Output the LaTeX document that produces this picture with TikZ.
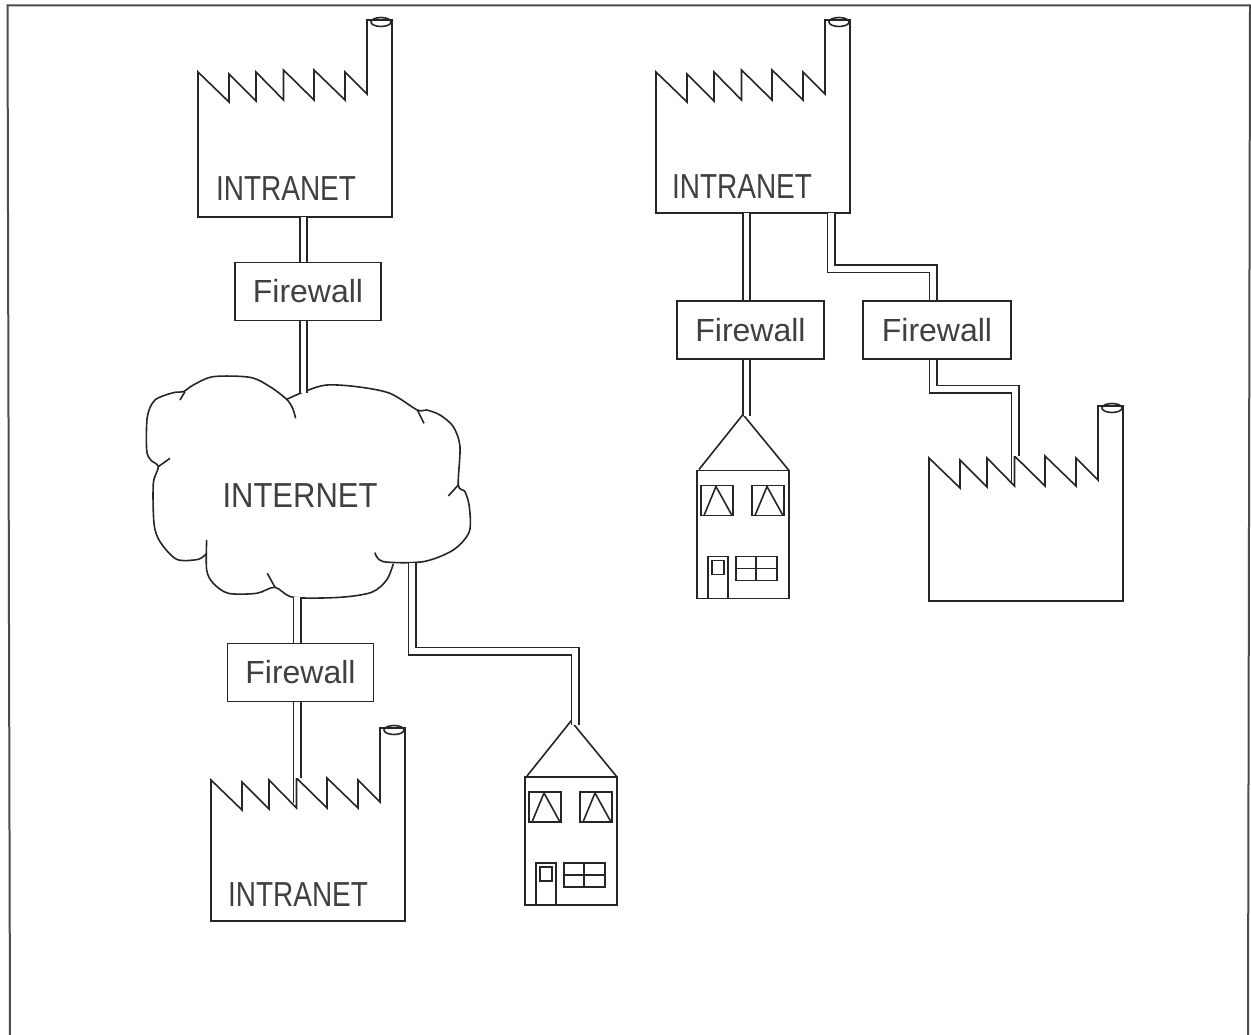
\documentclass[tikz,border=0pt]{standalone}
\usepackage{fontspec}
\setmainfont{Liberation Sans}
\newcommand{\tallI}[1]{\scalebox{1}[1.24]{#1}}
\newcommand{\tallC}[1]{\scalebox{1}[1.12]{#1}}
\tikzset{
  outline/.style={draw=black!85,line width=1.6pt,line join=miter},
  link/.style={draw=black!85,line width=1.7pt,double=white,double distance=5.6pt,line join=miter},
  fwbox/.style={draw=black!85,line width=1.8pt,fill=white,minimum width=146pt,minimum height=58pt,inner sep=0pt,font=\fontsize{32}{32}\selectfont,text=black!75},
  itext/.style={inner sep=0pt,text=black!75,font=\fontsize{28}{28}\selectfont},
  pics/factory/.style={code={
    \draw[outline] (0,0)--(31,30)--(31,2)--(58,29)--(58,0)--(85.5,28)--(85.5,-2)--(116,28)--(116,-2)--(147,28)--(147,0)--(169,22)--(169,-52)--(194,-52)--(194,#1)--(0,#1)--cycle;
    \draw[outline] (183,-50) ellipse (10 and 4.5);
  }},
  pics/house/.style={code={
    \draw[outline] (2,-1)--(46,-56)--(92,0);
    \draw[outline] (0,0) rectangle (92,128);
    \draw[outline] (4,15) rectangle (36,45);
    \draw[outline] (7,45)--(19,16)--(35,45);
    \draw[outline] (55,15) rectangle (87,45);
    \draw[outline] (58,45)--(70,16)--(86,45);
    \draw[outline] (11,128)--(11,86)--(31,86)--(31,128);
    \draw[outline] (15,90) rectangle (27,104);
    \draw[outline] (39,86) rectangle (80,110);
    \draw[outline] (59,86)--(59,110);
    \draw[outline] (39,98)--(80,98);
  }},
}
\begin{document}
\begin{tikzpicture}[x=1pt,y=-1pt]
\useasboundingbox (0,0) rectangle (1251,1035);
\fill[white] (0,0) rectangle (1251,1035);
\draw[draw=black!70,line width=2pt] (10,1036) -- (7.5,5.5) -- (1250,5.5) -- (1248,1036);

% cloud outline
\begin{scope}[shift={(130,360)},x=0.3333pt,y=-0.3333pt]
\draw[outline] plot[smooth,tension=0.5] coordinates {(497,175)(488,145)(470,118)(420,80)(360,52)(250,50)(190,75)(160,95)(130,98)(75,120)(52,170)(50,270)(62,300)(85,320)(70,370)(72,490)(90,545)(140,598)(205,598)(230,580)};
\draw[outline] plot[smooth,tension=0.5] coordinates {(150,120)(165,95)};
\draw[outline] plot[smooth,tension=0.5] coordinates {(120,295)(85,320)};
\draw[outline] plot[smooth,tension=0.5] coordinates {(230,540)(230,630)(250,670)(295,700)(380,700)(435,682)(490,712)(630,712)(725,697)(770,660)(790,612)};
\draw[outline] plot[smooth,tension=0.5] coordinates {(412,640)(435,682)};
\draw[outline] plot[smooth,tension=0.5] coordinates {(735,578)(760,605)(880,605)(970,570)(1018,515)(1018,440)(1005,395)(985,375)(990,260)(970,200)(930,165)(890,150)(862,150)(780,100)(680,80)(590,75)(530,92)(470,118)};
\draw[outline] plot[smooth,tension=0.5] coordinates {(955,408)(985,375)};
\draw[outline] plot[smooth,tension=0.5] coordinates {(882,190)(862,150)};
\end{scope}
\node[inner sep=0pt,text=black!75,font=\fontsize{31}{31}\selectfont] (internet) at (300,496) {\tallC{INTERNET}};

% factories
\pic at (198,72) {factory=145};
\pic at (656,72) {factory=141};
\pic at (929,458) {factory=143};
\pic at (211,780) {factory=141};
\node[itext] (i1) at (286,189) {\tallI{INTRANET}};
\node[itext] (i2) at (742,187) {\tallI{INTRANET}};
\node[itext] (i3) at (298,895) {\tallI{INTRANET}};

% houses
\pic at (525,777) {house};
\pic at (697,470.5) {house};

% firewalls
\node[fwbox] (fw1) at (308,291.5) {Firewall};
\node[fwbox] (fw2) at (300.5,672.5) {Firewall};
\node[fwbox,minimum width=147pt] (fw3) at (750.5,330) {Firewall};
\node[fwbox,minimum width=148pt] (fw4) at (937,330) {Firewall};

% connector ends
\coordinate (f1b) at (303.5,217);
\coordinate (c1) at (303.5,393);
\coordinate (c2) at (297,597);
\coordinate (f4t) at (297,778);
\coordinate (c3) at (412,563);
\coordinate (h1) at (575,725);
\coordinate (f2a) at (746.5,213);
\coordinate (h2) at (746.5,416);
\coordinate (f2b) at (831,213);
\coordinate (f3t) at (1015,456);

\draw[link] (f1b) -- (fw1.north -| f1b);
\draw[link] (fw1.south -| c1) -- (c1);
\draw[link] (c2) -- (fw2.north -| c2);
\draw[link] (fw2.south -| f4t) -- (f4t);
\draw[outline] (293.3,776) -- (293.3,803);
\draw[link] (c3) -- (412,651) -- (575,651) -- (h1);
\draw[link] (f2a) -- (fw3.north -| f2a);
\draw[link] (fw3.south -| h2) -- (h2);
\draw[link] (f2b) -- (831,269) -- (933,269) -- (fw4.north -| 933,269);
\draw[link] (fw4.south -| 933,389) -- (933,389) -- (1015,389) -- (f3t);
\draw[outline] (1011.3,454) -- (1011.3,483);
\end{tikzpicture}
\end{document}
